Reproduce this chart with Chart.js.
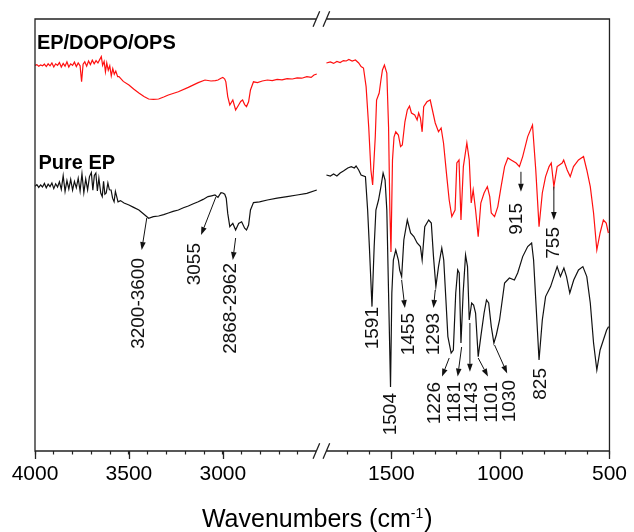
<!DOCTYPE html>
<html>
<head>
<meta charset="utf-8">
<script src="https://cdn.jsdelivr.net/npm/chart.js@4/dist/chart.umd.min.js"></script>
<style>
  html, body { margin: 0; padding: 0; background: #fff; }
  canvas { display: block; }
</style>
</head>
<body>
<canvas id="ftir" width="634" height="532"></canvas>
<script>
// FTIR spectra, transmittance in arbitrary units (0 = bottom of frame, 108 = top)

// EP/DOPO/OPS, 4000-2500 cm-1
const opsLeftWn = [4000, 3990, 3980, 3970, 3960, 3950, 3940, 3930, 3920, 3910, 3900, 3890, 3880, 3870, 3860, 3850, 3840, 3830, 3820, 3810,
  3800, 3790, 3780, 3770, 3760, 3752, 3744, 3735, 3725, 3715, 3705, 3695, 3685, 3675, 3665, 3655, 3647, 3640, 3632, 3625,
  3618, 3610, 3602, 3594, 3586, 3578, 3570, 3560, 3553, 3530, 3500, 3475, 3447, 3420, 3395, 3370, 3342, 3315, 3290, 3237,
  3184, 3131, 3095, 3063, 3040, 3026, 3010, 3000, 2990, 2984, 2974, 2963, 2947, 2932, 2916, 2905, 2895, 2884, 2874, 2863,
  2853, 2837, 2816, 2790, 2763, 2737, 2711, 2685, 2658, 2630, 2605, 2580, 2553, 2530, 2515, 2500];
const opsLeftT = [96.4, 96.6, 96.2, 96.5, 96.3, 96.7, 96.1, 96.8, 96.3, 97.0, 96.0, 96.8, 96.4, 97.1, 96.0, 96.9, 96.2, 97.3, 96.0, 96.8,
  96.4, 97.2, 96.1, 97.0, 96.3, 92.3, 96.7, 97.3, 96.2, 97.5, 96.6, 97.7, 96.8, 97.6, 97.0, 97.9, 98.6, 96.4, 97.4, 94.8,
  97.0, 95.2, 96.3, 93.8, 95.6, 94.2, 95.0, 93.6, 93.6, 92.4, 91.5, 90.5, 89.5, 88.6, 88.0, 87.9, 88.0, 88.5, 89.0, 89.8,
  90.9, 92.1, 92.75, 92.5, 92.6, 92.75, 93.2, 93.4, 93.0, 92.3, 88.6, 86.5, 87.75, 85.25, 86.5, 87.4, 87.75, 86.6, 86.1, 87.3,
  90.25, 92.3, 92.1, 92.5, 92.75, 92.6, 92.9, 92.8, 93.1, 93.0, 93.3, 93.2, 93.6, 93.4, 94.0, 94.25];

// EP/DOPO/OPS, 1800-500 cm-1
const opsRightWn = [1798, 1780, 1765, 1750, 1735, 1720, 1707, 1695, 1680, 1665, 1650, 1639, 1628, 1616, 1604, 1594, 1586, 1574, 1568, 1556,
  1548, 1541, 1532, 1521, 1513, 1507, 1502, 1495, 1488, 1480, 1468, 1458, 1450, 1438, 1427, 1417, 1408, 1393, 1382, 1375,
  1367, 1359, 1352, 1337, 1322, 1314, 1299, 1284, 1272, 1261, 1246, 1235, 1223, 1208, 1200, 1190, 1181, 1170, 1154, 1143,
  1134, 1125, 1114, 1102, 1090, 1075, 1060, 1049, 1042, 1027, 1012, 997, 981, 966, 951, 928, 913, 898, 875, 853,
  838, 823, 808, 793, 777, 767, 755, 740, 717, 710, 694, 680, 665, 642, 619, 604, 588, 573, 558, 543,
  528, 515, 505];
const opsRightT = [97.0, 97.25, 96.9, 97.4, 97.1, 97.6, 97.5, 97.9, 97.5, 97.75, 97.0, 96.1, 95.75, 91.1, 81.0, 70.25, 66.5, 78.5, 87.75, 89.5,
  92.75, 95.25, 96.5, 94.5, 81.0, 60.25, 49.75, 72.75, 78.5, 79.8, 79.0, 76.1, 76.5, 82.3, 85.25, 86.25, 84.5, 84.0, 82.75, 84.5,
  83.25, 79.8, 86.1, 87.3, 87.75, 85.75, 82.0, 79.8, 80.75, 77.0, 68.6, 62.75, 58.6, 60.25, 72.0, 72.75, 57.75, 71.1, 77.0, 72.75,
  62.0, 65.25, 60.25, 53.6, 62.0, 64.5, 66.1, 63.6, 59.5, 58.6, 61.1, 66.1, 71.1, 73.25, 72.75, 72.0, 71.1, 73.6, 78.6, 81.5,
  70.25, 56.1, 64.5, 68.6, 71.1, 72.0, 66.1, 71.1, 72.0, 72.75, 70.25, 68.6, 71.1, 72.75, 73.6, 70.25, 66.1, 59.5, 50.25, 54.5,
  57.75, 57.0, 54.5];

// Pure EP, 4000-2500 cm-1
const epLeftWn = [4000, 3990, 3980, 3970, 3960, 3950, 3940, 3930, 3920, 3910, 3900, 3890, 3880, 3870, 3860, 3850, 3840, 3830, 3820, 3810,
  3800, 3790, 3780, 3770, 3760, 3750, 3740, 3730, 3720, 3710, 3700, 3692, 3684, 3676, 3668, 3660, 3650, 3642, 3635, 3628,
  3621, 3612, 3604, 3595, 3587, 3579, 3572, 3566, 3558, 3545, 3526, 3500, 3475, 3447, 3420, 3395, 3370, 3342, 3315, 3290,
  3265, 3237, 3210, 3184, 3157, 3131, 3105, 3079, 3060, 3042, 3026, 3010, 3000, 2990, 2982, 2974, 2963, 2947, 2932, 2916,
  2900, 2884, 2874, 2863, 2853, 2837, 2805, 2763, 2711, 2658, 2605, 2553, 2500];
const epLeftT = [66.2, 66.6, 65.9, 66.5, 66.0, 66.9, 65.8, 66.7, 66.1, 67.0, 65.6, 66.8, 66.0, 67.3, 65.4, 68.8, 64.9, 67.6, 65.5, 67.9,
  65.2, 67.4, 65.8, 68.2, 65.0, 69.3, 64.6, 68.0, 65.3, 68.6, 69.6, 65.2, 68.9, 69.5, 65.0, 68.2, 64.5, 63.6, 67.4, 64.2,
  64.5, 67.0, 65.3, 65.25, 63.2, 62.3, 64.9, 63.8, 62.3, 62.6, 62.0, 61.5, 60.9, 60.25, 59.2, 58.2, 58.6, 58.75, 59.1, 59.5,
  59.9, 60.25, 60.8, 61.25, 61.8, 62.3, 62.9, 63.6, 63.8, 64.0, 63.4, 64.6, 64.5, 64.2, 63.2, 59.4, 56.1, 56.9, 55.25, 56.9,
  57.3, 55.7, 55.25, 56.5, 60.25, 62.1, 62.3, 62.75, 63.2, 63.6, 64.0, 64.4, 65.25];

// Pure EP, 1800-500 cm-1
const epRightWn = [1798, 1780, 1765, 1750, 1735, 1720, 1700, 1684, 1670, 1662, 1650, 1639, 1619, 1609, 1601, 1589, 1579, 1571, 1559, 1548,
  1538, 1529, 1521, 1513, 1504, 1498, 1491, 1480, 1468, 1462, 1453, 1443, 1427, 1412, 1397, 1382, 1367, 1359, 1347, 1329,
  1317, 1307, 1296, 1284, 1269, 1260, 1250, 1241, 1226, 1216, 1205, 1196, 1189, 1181, 1171, 1160, 1151, 1143, 1132, 1123,
  1114, 1102, 1090, 1075, 1064, 1054, 1042, 1030, 1019, 1004, 981, 959, 936, 921, 898, 875, 857, 848, 838, 823,
  808, 793, 770, 755, 740, 725, 709, 697, 682, 664, 642, 622, 604, 588, 573, 558, 543, 528, 513, 504];
const epRightT = [69.0, 68.75, 69.25, 68.75, 69.5, 70.0, 70.75, 71.1, 70.75, 71.25, 70.25, 69.0, 68.6, 60.25, 51.1, 36.1, 51.1, 60.25, 62.75, 66.1,
  69.5, 67.75, 60.25, 39.5, 16.0, 39.5, 47.75, 50.25, 47.75, 45.25, 43.6, 52.75, 57.75, 54.5, 53.6, 52.0, 51.1, 47.75, 56.1, 57.75,
  57.0, 48.6, 41.1, 46.1, 50.75, 47.75, 37.75, 28.6, 24.5, 25.25, 39.5, 45.25, 44.5, 27.0, 39.5, 49.0, 46.1, 32.75, 37.0, 36.5,
  34.5, 23.6, 28.6, 34.5, 37.75, 37.0, 31.1, 27.0, 29.0, 32.75, 42.0, 43.25, 42.75, 44.5, 48.6, 51.1, 52.0, 47.75, 37.75, 22.75,
  32.75, 38.6, 41.1, 43.6, 46.1, 43.6, 45.75, 43.6, 39.5, 42.75, 45.25, 46.1, 43.6, 37.0, 27.0, 20.25, 25.25, 27.75, 30.25, 31.1];

// x axis ticks
const majorTicks = [4000, 3500, 3000, 1500, 1000, 500];
const minorTicks = [3900, 3800, 3700, 3600, 3400, 3300, 3200, 3100, 2900, 2800, 2700, 2600,
  1700, 1600, 1400, 1300, 1200, 1100, 900, 800, 700, 600];

// peak annotations: label, arrow tail/head (wavenumber, T), label anchor (wavenumber, T at text top)
const annLabels  = ['3200-3600', '3055', '2868-2962', '1591', '1504', '1455', '1293', '1226', '1181', '1143', '1101', '1030', '825', '915', '755'];
const annTailWn  = [3405, 3037, 2932, null, null, 1453, 1299, 1235, 1178, 1140, 1102, 1027, null, 906, 755];
const annTailT   = [58.25, 63.5, 53.25, null, null, 42.75, 40.25, 23.25, 26.0, 32.0, 23.25, 26.5, null, 69.8, 66.1];
const annHeadWn  = [3432, 3116, 2947, null, null, 1438, 1307, 1268, 1196, 1140, 1057, 969, null, 906, 755];
const annHeadT   = [50.25, 54.0, 47.75, null, null, 35.75, 35.75, 18.6, 18.6, 19.8, 18.6, 19.4, null, 64.8, 57.75];
const annLabelWn = [3447, 3147, 2958, 1586, 1503, 1420, 1307, 1299, 1208, 1132, 1042, 959, 815, 924, 755];
const annLabelT  = [48.25, 52.0, 47.0, 36.0, 14.5, 34.5, 34.5, 17.25, 17.25, 17.25, 17.25, 17.75, 20.75, 62.0, 56.0];

// series captions (left edge wavenumber, baseline T)
const captions = ['EP/DOPO/OPS', 'Pure EP'];
const captionWn = [3990, 3982];
const captionT = [100.4, 70.6];

const FONT = '"Liberation Sans", Arial, Helvetica, sans-serif';
Chart.defaults.font.family = FONT;
Chart.defaults.color = '#000';

// linear scale with a break between 2500 and 1800 cm-1
class BrokenScale extends Chart.LinearScale {
  static id = 'broken';
  static defaults = {};
  buildTicks() {
    return majorTicks.concat(minorTicks).sort((a, b) => b - a).map(v => ({ value: v }));
  }
  fraction(v) {
    const o = this.options.segments;
    if (v >= o.leftEnd) {
      return (o.leftStart - v) / (o.leftStart - o.leftEnd) * o.leftFrac;
    }
    return o.rightFrac + (o.rightStart - v) / (o.rightStart - o.rightEnd) * (1 - o.rightFrac);
  }
  getPixelForValue(v) {
    return this.getPixelForDecimal(this.fraction(v));
  }
  getValueForPixel(px) {
    const o = this.options.segments;
    const f = this.getDecimalForPixel(px);
    if (f <= o.leftFrac) return o.leftStart - f / o.leftFrac * (o.leftStart - o.leftEnd);
    return o.rightStart - (f - o.rightFrac) / (1 - o.rightFrac) * (o.rightStart - o.rightEnd);
  }
}
Chart.register(BrokenScale);

function toPoints(wn, t) {
  return wn.map((w, i) => ({ x: w, y: t[i] }));
}
const gap = [{ x: 2150, y: null }];

const decor = {
  id: 'decor',
  afterDatasetsDraw(chart) {
    const { ctx, chartArea: a, scales: { x, y } } = chart;
    const seg = x.options.segments;
    ctx.save();

    // frame with the axis break
    const mid = (x.getPixelForValue(seg.leftEnd) + x.getPixelForValue(seg.rightStart)) / 2;
    const s1 = mid - 5, s2 = mid + 5;
    ctx.strokeStyle = '#222';
    ctx.lineWidth = 1.3;
    ctx.beginPath();
    ctx.moveTo(s1, a.top); ctx.lineTo(a.left, a.top); ctx.lineTo(a.left, a.bottom); ctx.lineTo(s1, a.bottom);
    ctx.moveTo(s2, a.top); ctx.lineTo(a.right, a.top); ctx.lineTo(a.right, a.bottom); ctx.lineTo(s2, a.bottom);
    [a.top, a.bottom].forEach(yy => {
      [s1, s2].forEach(xx => {
        ctx.moveTo(xx - 3.3, yy + 7.8);
        ctx.lineTo(xx + 3.3, yy - 7.8);
      });
    });
    // longer major ticks
    majorTicks.forEach(v => {
      const px = Math.round(x.getPixelForValue(v)) + 0.5;
      ctx.moveTo(px, a.bottom);
      ctx.lineTo(px, a.bottom + 8);
    });
    ctx.stroke();

    // peak arrows and labels
    ctx.strokeStyle = '#111';
    ctx.fillStyle = '#111';
    ctx.lineWidth = 1;
    annLabels.forEach((txt, i) => {
      if (annTailWn[i] !== null) {
        const x0 = x.getPixelForValue(annTailWn[i]), y0 = y.getPixelForValue(annTailT[i]);
        const x1 = x.getPixelForValue(annHeadWn[i]), y1 = y.getPixelForValue(annHeadT[i]);
        const ang = Math.atan2(y1 - y0, x1 - x0);
        const hl = 8, hw = 2.8;
        ctx.beginPath();
        ctx.moveTo(x0, y0);
        ctx.lineTo(x1 - Math.cos(ang) * hl, y1 - Math.sin(ang) * hl);
        ctx.stroke();
        ctx.beginPath();
        ctx.moveTo(x1, y1);
        ctx.lineTo(x1 - Math.cos(ang) * hl - Math.sin(ang) * hw, y1 - Math.sin(ang) * hl + Math.cos(ang) * hw);
        ctx.lineTo(x1 - Math.cos(ang) * hl + Math.sin(ang) * hw, y1 - Math.sin(ang) * hl - Math.cos(ang) * hw);
        ctx.closePath();
        ctx.fill();
      }
      ctx.save();
      ctx.translate(x.getPixelForValue(annLabelWn[i]), y.getPixelForValue(annLabelT[i]));
      ctx.rotate(-Math.PI / 2);
      ctx.font = '19px ' + FONT;
      ctx.textAlign = 'right';
      ctx.textBaseline = 'middle';
      ctx.fillText(txt, 0, 0);
      ctx.restore();
    });

    // series captions
    ctx.fillStyle = '#000';
    ctx.font = 'bold 20px ' + FONT;
    ctx.textAlign = 'left';
    ctx.textBaseline = 'alphabetic';
    captions.forEach((c, i) => {
      ctx.fillText(c, x.getPixelForValue(captionWn[i]), y.getPixelForValue(captionT[i]));
    });

    // axis title with superscript
    const main = 'Wavenumbers (cm', sup = '-1', close = ')';
    ctx.font = '25px ' + FONT;
    const wMain = ctx.measureText(main).width, wClose = ctx.measureText(close).width;
    ctx.font = '14px ' + FONT;
    const wSup = ctx.measureText(sup).width;
    let tx = (a.left + a.right) / 2 - 5 - (wMain + wSup + 1 + wClose) / 2;
    const ty = a.bottom + 76;
    ctx.font = '25px ' + FONT;
    ctx.fillText(main, tx, ty);
    tx += wMain;
    ctx.font = '14px ' + FONT;
    ctx.fillText(sup, tx, ty - 9);
    tx += wSup + 1;
    ctx.font = '25px ' + FONT;
    ctx.fillText(close, tx, ty);

    ctx.restore();
  }
};

new Chart(document.getElementById('ftir'), {
  type: 'line',
  data: {
    datasets: [
      {
        label: 'EP/DOPO/OPS',
        data: toPoints(opsLeftWn, opsLeftT).concat(gap, toPoints(opsRightWn, opsRightT)),
        borderColor: '#ff1010',
        borderWidth: 1.2
      },
      {
        label: 'Pure EP',
        data: toPoints(epLeftWn, epLeftT).concat(gap, toPoints(epRightWn, epRightT)),
        borderColor: '#111',
        borderWidth: 1.2
      }
    ]
  },
  options: {
    responsive: false,
    animation: false,
    devicePixelRatio: 1,
    spanGaps: false,
    elements: { point: { radius: 0 }, line: { tension: 0 } },
    layout: { padding: { left: 35, right: 18, top: 19, bottom: 0 } },
    plugins: { legend: { display: false }, tooltip: { enabled: false } },
    scales: {
      x: {
        type: 'broken',
        position: 'bottom',
        segments: { leftStart: 4000, leftEnd: 2500, rightStart: 1800, rightEnd: 500, leftFrac: 0.4905, rightFrac: 0.5065 },
        grid: { drawOnChartArea: false, drawTicks: true, tickLength: 3.5, tickColor: '#222', tickWidth: 1.2 },
        border: { display: false },
        ticks: {
          autoSkip: false,
          maxRotation: 0,
          padding: 7,
          color: '#000',
          font: { size: 21 },
          callback: v => majorTicks.includes(v) ? String(v) : ''
        },
        afterFit: s => { s.height = 81; }
      },
      y: { display: false, min: 0, max: 108 }
    }
  },
  plugins: [decor]
});
</script>
</body>
</html>
